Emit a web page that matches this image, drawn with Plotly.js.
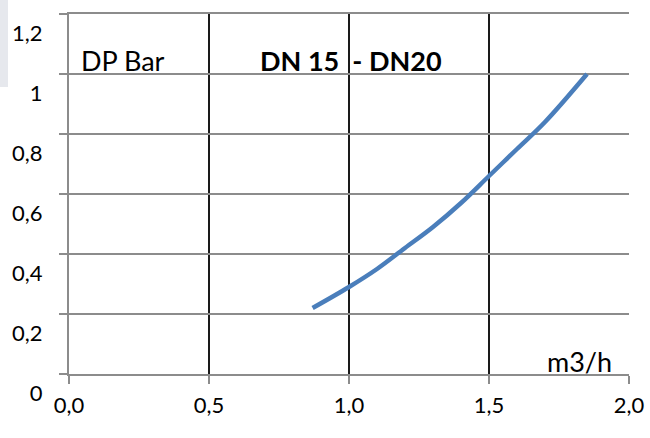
<!DOCTYPE html>
<html>
<head>
<meta charset="utf-8">
<script src="https://cdn.plot.ly/plotly-3.0.1.min.js"></script>
<style>
  html, body { margin: 0; padding: 0; background: #ffffff; }
  #chart { width: 650px; height: 438px; position: relative; }
  #corner { position: absolute; left: 0; top: 0; width: 8px; height: 87px; background: #e6e8ed; z-index: 5; }
</style>
</head>
<body>
<div id="chart"></div>
<div id="corner"></div>
<script>
// Flow (m3/h) and pressure drop (bar)
const flowValues = [0.87, 1.0, 1.1, 1.2, 1.3, 1.4, 1.5, 1.6, 1.7, 1.85];
const dpValues   = [0.22, 0.29, 0.35, 0.42, 0.49, 0.57, 0.66, 0.75, 0.84, 1.0];

// Tick positions and labels
const xTickVals = [0, 0.5, 1.0, 1.5, 2.0];
const xTickText = ["0,0", "0,5", "1,0", "1,5", "2,0"];
const yTickVals = [0, 0.2, 0.4, 0.6, 0.8, 1.0, 1.2];
const yTickText = ["0", "0,2", "0,4", "0,6", "0,8", "1", "1,2"];

// Text labels
const yUnitLabel = "DP Bar";
const chartLabel = "<b>DN 15\u00a0\u00a0- DN20</b>";
const xUnitLabel = "m3/h";

const fontFamily = "Lato, 'Open Sans', 'Liberation Sans', sans-serif";

const trace = {
  x: flowValues,
  y: dpValues,
  type: "scatter",
  mode: "lines",
  line: { color: "#4a7ebb", width: 4.5, shape: "spline", smoothing: 1 },
  hoverinfo: "skip",
  showlegend: false
};

const layout = {
  width: 650,
  height: 438,
  margin: { l: 69, r: 21, t: 14, b: 64, pad: 0 },
  paper_bgcolor: "#ffffff",
  plot_bgcolor: "#ffffff",
  font: { family: fontFamily, color: "#000000" },
  xaxis: {
    range: [0, 2.0],
    tickvals: xTickVals,
    ticktext: xTickText,
    showgrid: true,
    gridcolor: "#1a1a1a",
    gridwidth: 1.5,
    zeroline: false,
    showline: true,
    mirror: true,
    linecolor: "#8c8c8c",
    linewidth: 2,
    ticks: "outside",
    ticklen: 8,
    tickwidth: 2,
    tickcolor: "#8c8c8c",
    ticklabelstandoff: 3,
    tickfont: { family: fontFamily, size: 22, color: "#000000" },
    fixedrange: true
  },
  yaxis: {
    range: [0, 1.2],
    tickvals: yTickVals,
    ticktext: yTickText,
    showgrid: true,
    gridcolor: "#8c8c8c",
    gridwidth: 2,
    zeroline: false,
    showline: true,
    linecolor: "#8c8c8c",
    linewidth: 2,
    ticks: "outside",
    ticklen: 8,
    tickwidth: 2,
    tickcolor: "#8c8c8c",
    ticklabelstandoff: 12,
    ticklabelshift: 19,
    ticklabeloverflow: "allow",
    tickfont: { family: fontFamily, size: 22, color: "#000000" },
    fixedrange: true
  },
  annotations: [
    {
      text: yUnitLabel, xref: "x", yref: "y", x: 0.036, y: 1.0,
      xanchor: "left", yanchor: "bottom", yshift: -5, showarrow: false,
      font: { family: fontFamily, size: 27, color: "#000000" }
    },
    {
      text: chartLabel, xref: "x", yref: "y", x: 0.675, y: 1.0,
      xanchor: "left", yanchor: "bottom", yshift: -5, showarrow: false,
      font: { family: fontFamily, size: 27, color: "#000000" }
    },
    {
      text: xUnitLabel, xref: "x", yref: "y", x: 1.700, y: 0,
      xanchor: "left", yanchor: "bottom", yshift: -6, showarrow: false,
      font: { family: fontFamily, size: 27, color: "#000000" }
    }
  ]
};

Plotly.newPlot("chart", [trace], layout, { displayModeBar: false, staticPlot: true });
</script>
</body>
</html>
